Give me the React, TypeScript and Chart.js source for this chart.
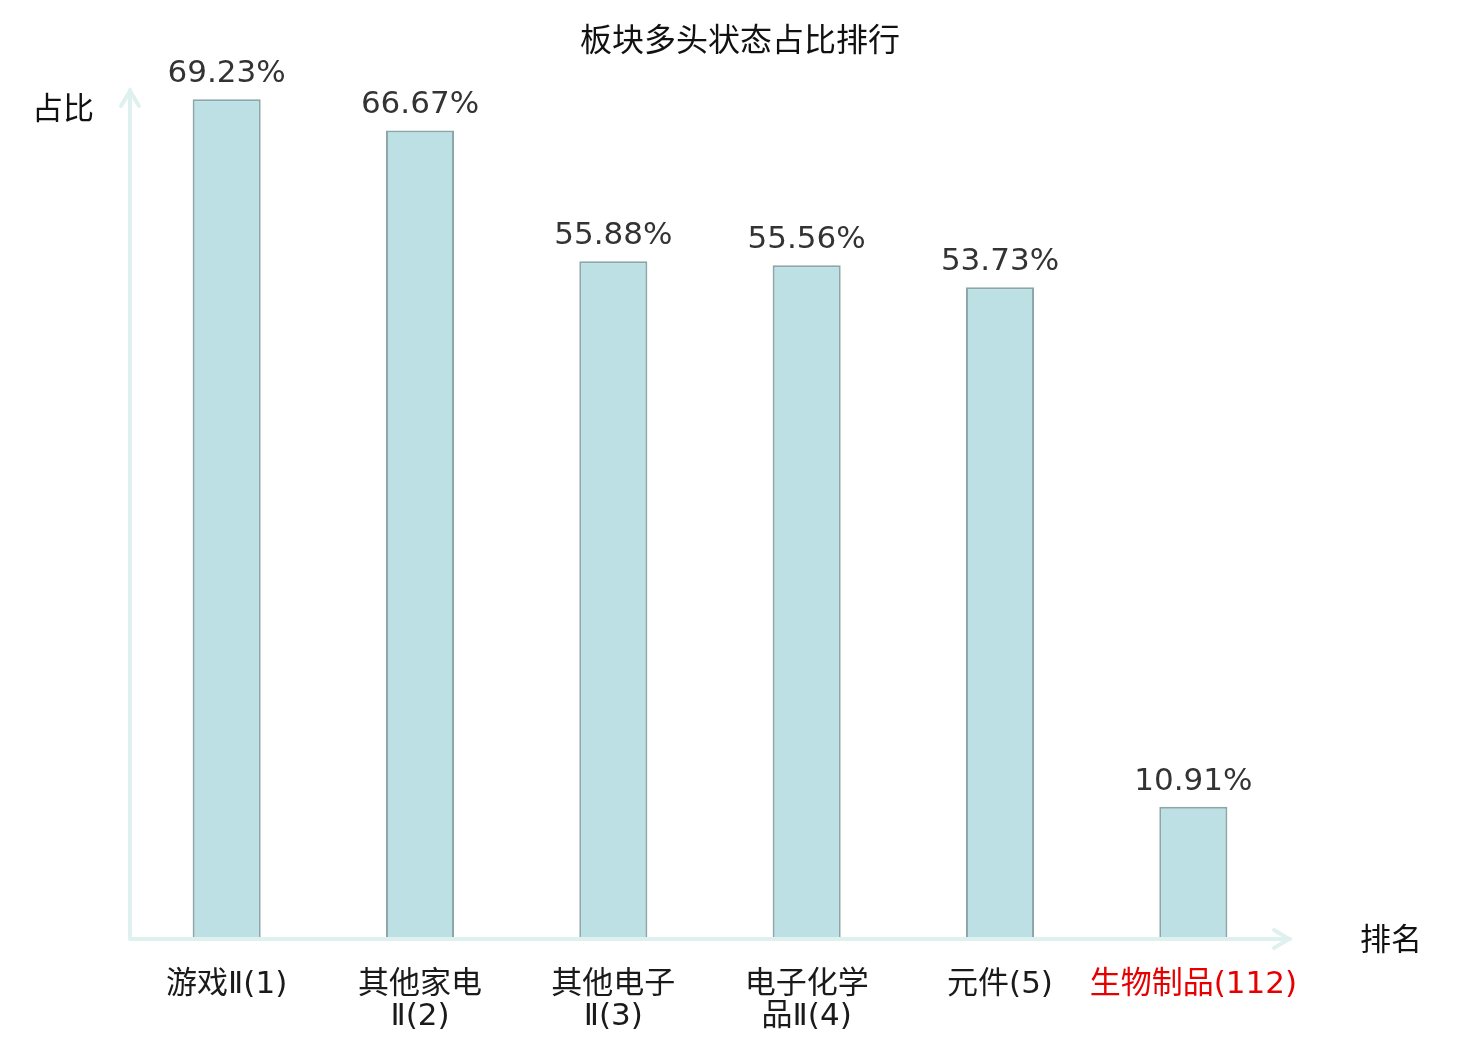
import Chart from "chart.js/auto";
import { useEffect, useRef } from "react";

const categories = [
  "游戏Ⅱ(1)",
  "其他家电Ⅱ(2)",
  "其他电子Ⅱ(3)",
  "电子化学品Ⅱ(4)",
  "元件(5)",
  "生物制品(112)",
];
// wrapped the same way the reference does it
const tickLines = [
  ["游戏Ⅱ(1)"],
  ["其他家电", "Ⅱ(2)"],
  ["其他电子", "Ⅱ(3)"],
  ["电子化学", "品Ⅱ(4)"],
  ["元件(5)"],
  ["生物制品(112)"],
];
const shares = [69.23, 66.67, 55.88, 55.56, 53.73, 10.91];
const highlightIndex = 5;

const FONT = "'DejaVu Sans', 'Noto Sans CJK SC', sans-serif";
const AXIS_COLOR = "#dff1ef";

const decorations = {
  id: "decorations",
  afterDraw(chart: Chart) {
    const { ctx, chartArea } = chart;
    const { left, right, top, bottom } = chartArea;
    ctx.save();

    // axes with arrow heads
    ctx.strokeStyle = AXIS_COLOR;
    ctx.lineWidth = 4;
    ctx.lineCap = "round";
    ctx.beginPath();
    ctx.moveTo(left, bottom);
    ctx.lineTo(left, top);
    ctx.moveTo(left - 9, top + 16);
    ctx.lineTo(left, top + 1);
    ctx.lineTo(left + 9, top + 16);
    ctx.moveTo(left, bottom);
    ctx.lineTo(right, bottom);
    ctx.moveTo(right - 16, bottom - 9);
    ctx.lineTo(right - 1, bottom);
    ctx.lineTo(right - 16, bottom + 9);
    ctx.stroke();

    // value labels
    ctx.fillStyle = "#333333";
    ctx.font = `31px ${FONT}`;
    ctx.textAlign = "center";
    ctx.textBaseline = "alphabetic";
    const meta = chart.getDatasetMeta(0);
    meta.data.forEach((bar: any, i: number) => {
      ctx.fillText(`${shares[i].toFixed(2)}%`, bar.x, bar.y - 17);
    });

    // title and axis names
    ctx.fillStyle = "#111111";
    ctx.font = `32px ${FONT}`;
    ctx.textBaseline = "middle";
    ctx.fillText("板块多头状态占比排行", chart.width / 2, 43);
    ctx.font = `31px ${FONT}`;
    ctx.fillText("占比", 63, 111);
    ctx.fillText("排名", 1391, 942);

    ctx.restore();
  },
};

export default function App() {
  const canvasRef = useRef<HTMLCanvasElement | null>(null);
  const chartRef = useRef<Chart | null>(null);

  useEffect(() => {
    if (!canvasRef.current) {
      return;
    }
    if (chartRef.current) {
      chartRef.current.destroy();
    }

    chartRef.current = new Chart(canvasRef.current, {
      type: "bar",
      data: {
        labels: categories,
        datasets: [
          {
            data: shares,
            backgroundColor: "#bce0e3",
            borderColor: "#8aa6a8",
            borderWidth: 2,
            categoryPercentage: 1,
            barPercentage: 0.352,
          },
        ],
      },
      options: {
        animation: false,
        responsive: true,
        maintainAspectRatio: false,
        layout: { padding: { left: 130, right: 190, top: 90, bottom: 0 } },
        plugins: {
          legend: { display: false },
          tooltip: { enabled: false },
          title: { display: false },
        },
        scales: {
          x: {
            offset: true,
            grid: { display: false, drawTicks: false },
            border: { display: false },
            afterFit: (scale: any) => {
              scale.height = 101;
            },
            ticks: {
              autoSkip: false,
              maxRotation: 0,
              minRotation: 0,
              padding: 30,
              font: { family: FONT, size: 31, lineHeight: 1.04 },
              color: (c: any) => (c.index === highlightIndex ? "#e60000" : "#1a1a1a"),
              callback: (_v: any, i: number) => tickLines[i],
            },
          },
          y: {
            display: false,
            min: 0,
            max: 70,
          },
        },
      },
      plugins: [decorations],
    });

    return () => {
      chartRef.current?.destroy();
    };
  }, []);

  return (
    <div
      style={{
        position: "fixed",
        left: 0,
        top: 0,
        width: 1480,
        height: 1040,
        background: "#ffffff",
      }}
    >
      <canvas ref={canvasRef} />
    </div>
  );
}
